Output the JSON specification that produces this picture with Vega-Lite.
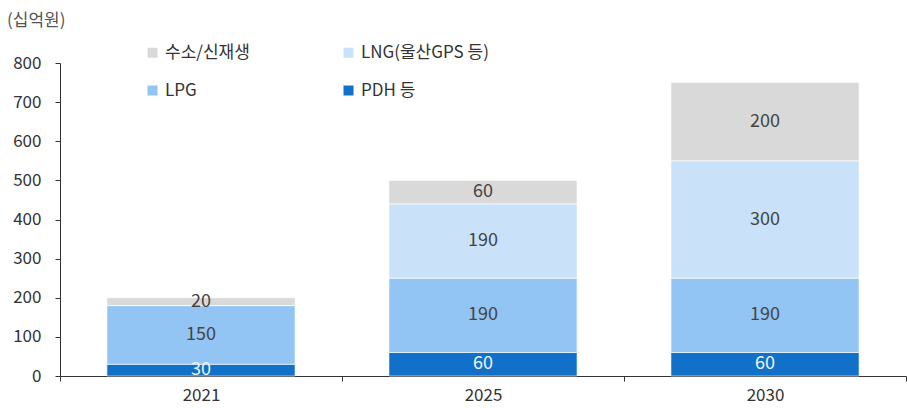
{
  "$schema": "https://vega.github.io/schema/vega-lite/v6.json",
  "autosize": "none",
  "width": 846,
  "height": 313,
  "padding": {"left": 60, "top": 63, "right": 1, "bottom": 32},
  "background": "white",
  "config": {
    "font": "Noto Sans CJK KR",
    "view": {"stroke": null}
  },
  "title": {
    "text": "(십억원)",
    "anchor": "start",
    "frame": "group",
    "orient": "top",
    "fontSize": 17,
    "fontWeight": "normal",
    "color": "#555555",
    "dx": -53,
    "offset": -3,
    "baseline": "bottom"
  },
  "data": {
    "values": [
      {"year": "2021", "series": "PDH 등", "ord": 1, "value": 30},
      {"year": "2021", "series": "LPG", "ord": 2, "value": 150},
      {"year": "2021", "series": "LNG(울산GPS 등)", "ord": 3, "value": 0},
      {"year": "2021", "series": "수소/신재생", "ord": 4, "value": 20},
      {"year": "2025", "series": "PDH 등", "ord": 1, "value": 60},
      {"year": "2025", "series": "LPG", "ord": 2, "value": 190},
      {"year": "2025", "series": "LNG(울산GPS 등)", "ord": 3, "value": 190},
      {"year": "2025", "series": "수소/신재생", "ord": 4, "value": 60},
      {"year": "2030", "series": "PDH 등", "ord": 1, "value": 60},
      {"year": "2030", "series": "LPG", "ord": 2, "value": 190},
      {"year": "2030", "series": "LNG(울산GPS 등)", "ord": 3, "value": 300},
      {"year": "2030", "series": "수소/신재생", "ord": 4, "value": 200}
    ]
  },
  "encoding": {
    "x": {
      "field": "year",
      "type": "nominal",
      "scale": {"paddingInner": 0, "paddingOuter": 0},
      "axis": {
        "title": null,
        "labelAngle": 0,
        "labelFontSize": 17,
        "labelColor": "#333333",
        "labelPadding": 6,
        "domainColor": "#333333",
        "tickColor": "#333333",
        "tickSize": 5,
        "tickBand": "extent",
        "grid": false
      }
    },
    "y": {
      "field": "value",
      "type": "quantitative",
      "stack": "zero",
      "scale": {"domain": [0, 800], "nice": false},
      "axis": {
        "title": null,
        "values": [0, 100, 200, 300, 400, 500, 600, 700, 800],
        "labelFontSize": 17,
        "labelColor": "#333333",
        "labelPadding": 14,
        "domainColor": "#333333",
        "tickColor": "#333333",
        "tickSize": 5,
        "grid": false
      }
    },
    "order": {"field": "ord", "type": "quantitative"}
  },
  "layer": [
    {
      "mark": {"type": "bar", "width": {"band": 0.667}, "stroke": "white", "strokeWidth": 0.6},
      "encoding": {
        "color": {
          "field": "series",
          "type": "nominal",
          "scale": {
            "domain": ["수소/신재생", "LPG", "LNG(울산GPS 등)", "PDH 등"],
            "range": ["#D9D9D9", "#92C5F3", "#C9E2FA", "#1170C8"]
          },
          "legend": {
            "title": null,
            "orient": "none",
            "legendX": 84,
            "legendY": -19,
            "columns": 2,
            "columnPadding": 90,
            "rowPadding": 20,
            "symbolType": "square",
            "symbolSize": 100,
            "symbolStrokeWidth": 0,
            "labelFontSize": 17,
            "labelColor": "#333333",
            "labelOffset": 4
          }
        }
      }
    },
    {
      "transform": [{"filter": "datum.value > 0"}],
      "mark": {"type": "text", "fontSize": 18, "baseline": "middle", "align": "center"},
      "encoding": {
        "y": {"field": "value", "type": "quantitative", "stack": "zero", "bandPosition": 0.5},
        "text": {"field": "value", "type": "quantitative"},
        "color": {
          "condition": {"test": "datum.series === 'PDH 등'", "value": "#F0F4FA"},
          "value": "#444444"
        }
      }
    }
  ]
}
